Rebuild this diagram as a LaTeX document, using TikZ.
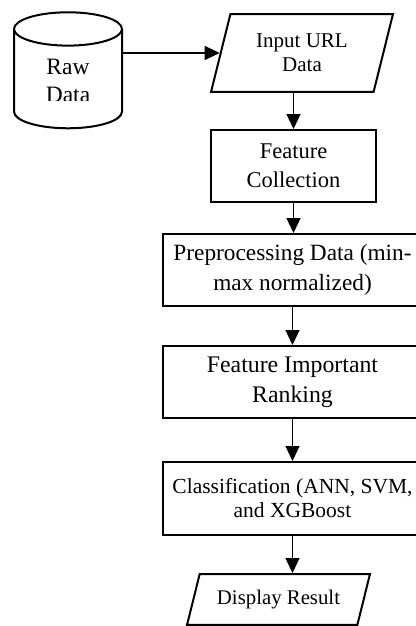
\documentclass[tikz,border=0pt]{standalone}
\usepackage{fontspec}
\setmainfont{Liberation Serif}
\usetikzlibrary{shapes.geometric,arrows.meta}
\begin{document}
\begin{tikzpicture}[x=1pt,y=1pt,
  stepbox/.style={rectangle,draw,line width=2pt,align=center,inner sep=0,minimum width=259,minimum height=72},
  iobox/.style={trapezium,trapezium left angle=76,trapezium right angle=104,trapezium stretches body,draw,line width=2pt,align=center,inner xsep=0},
  flow/.style={-{Triangle[length=15,width=14]},line width=1.2pt}]
\useasboundingbox (0,0) rectangle (415,-626);

\node (db) [cylinder,shape border rotate=90,aspect=5,draw,line width=2pt,minimum width=108,minimum height=116] at (68,-82) {};
% the label is cut off at the bottom
\begin{scope}
\clip (0,0) rectangle (415,-100);
\node (raw) [align=center,font=\fontsize{23.5}{28}\selectfont] at (68,-81) {Raw\\Data};
\end{scope}

\node (input) [iobox,inner ysep=20,minimum width=182,font=\fontsize{21}{24}\selectfont] at (302,-53) {Input URL\\Data};
\node (collect) [stepbox,minimum width=165,font=\fontsize{22.5}{29}\selectfont] at (293.5,-166) {Feature\\Collection};
\node (prep) [stepbox,font=\fontsize{23.3}{30}\selectfont] at (292.5,-270) {Preprocessing Data (min-\\max normalized)};
\node (rank) [stepbox,font=\fontsize{23.8}{30}\selectfont] at (292.5,-382) {Feature Important\\Ranking};
\node (clf) [stepbox,minimum height=73,font=\fontsize{21.5}{24}\selectfont] at (292.5,-498.5) {Classification (ANN, SVM,\\and XGBoost};
\node (out) [iobox,inner ysep=16,minimum width=183,font=\fontsize{20.8}{24}\selectfont] at (278.5,-599.5) {Display Result};

\draw [flow] (db.east |- input.west) -- (input.west);
\draw [flow] (collect.north |- input.south) -- (collect.north);
\draw [flow] (collect.south) -- (collect.south |- prep.north);
\draw [flow] (prep) -- (rank);
\draw [flow] (rank) -- (clf);
\draw [flow] (clf.south) -- (clf.south |- out.north);
\end{tikzpicture}
\end{document}
